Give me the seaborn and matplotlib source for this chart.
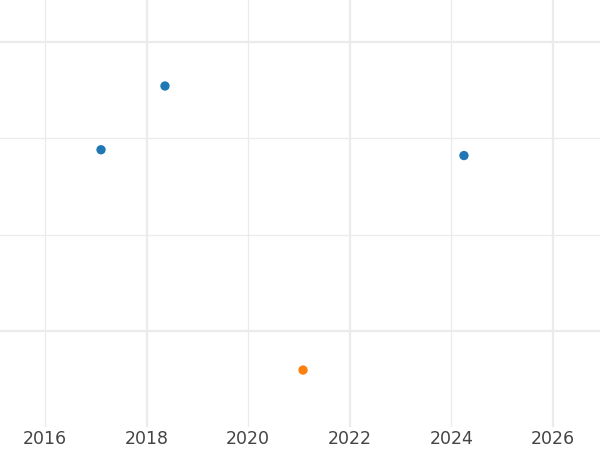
import pandas as pd
import matplotlib
matplotlib.use("Agg")
import matplotlib.pyplot as plt
from matplotlib.ticker import MultipleLocator, FormatStrFormatter
import seaborn as sns

# data
years = [2017.10, 2018.36, 2024.25, 2021.08]
values = [1.88, 2.54, 1.82, -0.40]
groups = ["a", "a", "a", "b"]

df = pd.DataFrame({"year": years, "value": values, "group": groups})

sns.set_style("white")
plt.rcParams['font.family'] = ['DejaVu Sans']

fig = plt.figure(figsize=(6, 4.5), dpi=100)
ax = fig.add_axes([0, 0.051, 1, 0.949])

sns.scatterplot(data=df, x="year", y="value", hue="group",
                palette={"a": "#1f77b4", "b": "#ff7f0e"},
                s=45, edgecolor="none", legend=False, ax=ax, zorder=3)

ax.set_xlim(2015.11, 2026.93)
ax.set_ylim(-0.99, 3.43)

ax.xaxis.set_major_locator(MultipleLocator(4, offset=2))
ax.xaxis.set_minor_locator(MultipleLocator(4))
ax.xaxis.set_major_formatter(FormatStrFormatter("%d"))
ax.xaxis.set_minor_formatter(FormatStrFormatter("%d"))
ax.yaxis.set_major_locator(MultipleLocator(3))
ax.yaxis.set_minor_locator(MultipleLocator(1))

ax.grid(which="major", color="#ebebeb", linewidth=1.6)
ax.grid(which="minor", color="#ebebeb", linewidth=0.9)
ax.set_axisbelow(True)

ax.tick_params(axis="x", which="both", length=0, pad=2, labelsize=12.5, labelcolor="#444444")
ax.tick_params(axis="y", which="both", length=0, labelleft=False)
ax.set_xlabel("")
ax.set_ylabel("")
for s in ax.spines.values():
    s.set_visible(False)

fig.savefig("out.png", dpi=100)
